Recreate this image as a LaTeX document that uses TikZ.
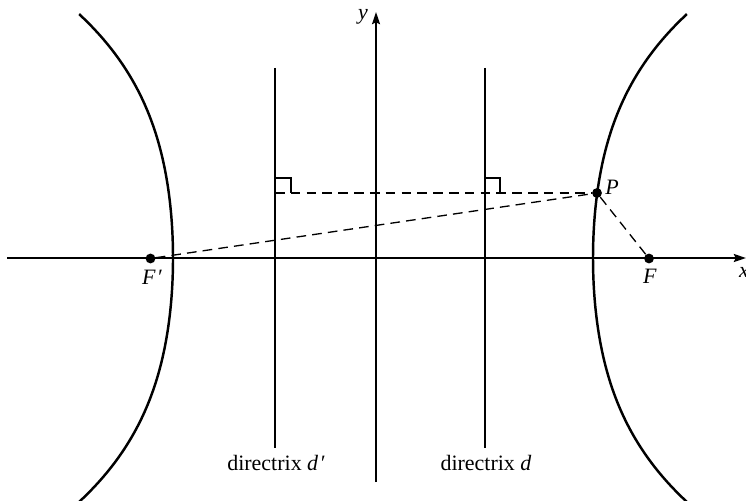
\documentclass[tikz,border=0pt]{standalone}
\usepackage{fontspec}
\setmainfont{Liberation Serif}
\usetikzlibrary{arrows.meta}

\begin{document}
\begin{tikzpicture}[
    x=0.02cm, y=-0.02cm,
    font=\fontsize{12.5}{15}\selectfont,
    axis/.style={line width=0.85pt, -{Stealth[length=7pt, width=4.6pt, inset=1.2pt]}},
    branch/.style={line width=1.4pt, smooth, samples=80, domain=-2.46:2.44},
    dirline/.style={line width=0.6pt},
    aux/.style={line width=0.75pt, dash pattern=on 5.5pt off 3.5pt},
    dot/.style={circle, fill, inner sep=0pt, minimum size=5.6pt}
  ]
    \useasboundingbox (0,0) rectangle (746,500);
    % axes
    \coordinate (xleft) at (7,258);
    \coordinate (xright) at (746,258);
    \coordinate (ybot) at (376,482);
    \coordinate (ytop) at (376,12);
    \draw[axis] (xleft) -- (xright);
    \draw[axis] (ybot) -- (ytop);
    \node (ylab) at (363,17) {\textit{y}};
    \node (xlab) at (744,272) {\textit{x}};
    % hyperbola
    \draw[branch] plot ({173 - (9.51*\x*\x + 1.054*\x*\x*\x*\x)}, {258 - 100*\x});
    \draw[branch] plot ({593 + (9.51*\x*\x + 1.054*\x*\x*\x*\x)}, {258 - 100*\x});
    % directrices
    \coordinate (dptop) at (275,68);
    \coordinate (dpbot) at (275,448);
    \coordinate (dtop) at (485,68);
    \coordinate (dbot) at (485,448);
    \draw[dirline] (dptop) -- (dpbot);
    \draw[dirline] (dtop) -- (dbot);
    \node (dplab) at (276,463) {directrix \textit{d\kern0.8pt′}};
    \node (dlab) at (486,463) {directrix \textit{d}};
    % foci and point
    \node[dot] (Fp) at (150.5,258.5) {};
    \node[dot] (F) at (649,258.5) {};
    \node[dot] (P) at (597,193) {};
    \node (Fplab) at (152,277) {\textit{F\kern0.8pt′}};
    \node (Flab) at (650,276) {\textit{F}};
    \node (Plab) at (612,187) {\textit{P}};
    \coordinate (dpfoot) at (275,193);
    \coordinate (dfoot) at (485,193);
    \draw[aux] (dpfoot) -- (P);
    \draw[aux] (Fp) -- (P);
    \draw[aux] (P) -- (F);
    % right angles
    \draw[dirline] (275,178) -- (291,178) -- (291,193);
    \draw[dirline] (485,178) -- (500,178) -- (500,193);
\end{tikzpicture}
\end{document}
